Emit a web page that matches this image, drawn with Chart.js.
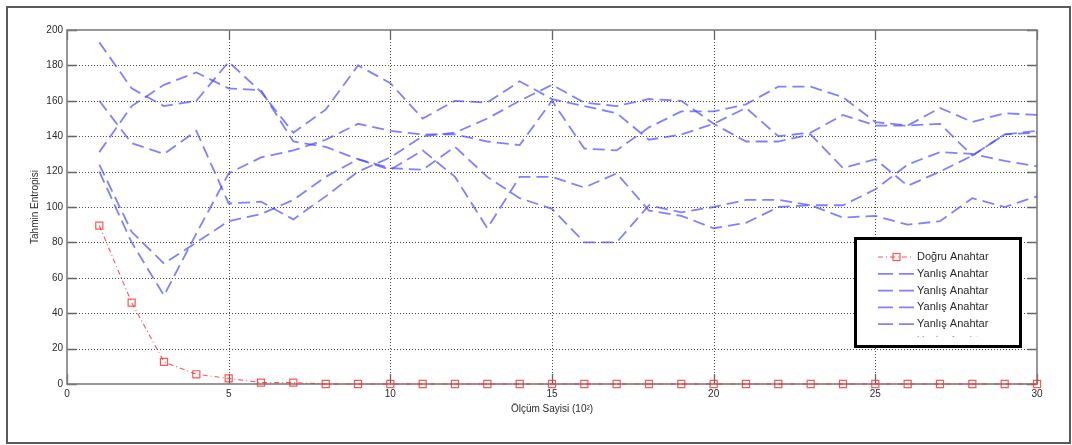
<!DOCTYPE html>
<html>
<head>
<meta charset="utf-8">
<script src="https://cdn.jsdelivr.net/npm/chart.js@4.4.1/dist/chart.umd.min.js"></script>
<style>
  html, body { margin: 0; padding: 0; background: #fff; }
  canvas { display: block; }
</style>
</head>
<body>
<canvas id="chart" width="1072" height="445"></canvas>
<script>
// Measurement counts (x 10^2)
const olcumSayisi = [1,2,3,4,5,6,7,8,9,10,11,12,13,14,15,16,17,18,19,20,21,22,23,24,25,26,27,28,29,30];

// Estimated entropy for the correct key
const dogruAnahtar = [89.5,46,12.5,5.5,3.2,0.8,0.8,0,0,0,0,0,0,0,0,0,0,0,0,0,0,0,0,0,0,0,0,0,0,0];

// Estimated entropy for the wrong keys
const yanlisAnahtar1 = [193,167,157,160,182,165,142,155,180,170,150,160,159,171,161,157,153,138,141,147,156,140,142,152,146,146,147,129,141,142];
const yanlisAnahtar2 = [131,157,169,176,167,166,137,134,127,122,121,134,117,105,99,80,80,101,97,100,104,104,101,101,110,124,131,130,126,123];
const yanlisAnahtar3 = [160,136,130,143,102,103,93,106,120,128,140,142,150,160,169,159,157,161,160,147,137,137,141,122,127,112,120,129,141,143];
const yanlisAnahtar4 = [124,86,68,80,92,96,104,117,127,121,132,117,88,117,117,111,119,98,95,88,91,100,101,94,95,90,92,105,100,106];
const yanlisAnahtar5 = [120,80,50,85,119,128,132,138,147,143,141,141,137,135,160,133,132,145,154,154,158,168,168,162,148,146,156,148,153,152];

// Axis ticks
const xTicks = [0,5,10,15,20,25,30];
const yTicks = [0,20,40,60,80,100,120,140,160,180,200];

const FONT = "'Liberation Sans', Arial, Helvetica, sans-serif";
const BLUE = 'rgba(70,70,255,0.68)';
const RED = 'rgba(255,40,40,0.78)';

const toPoints = arr => arr.map((v, i) => ({ x: olcumSayisi[i], y: v }));

const wrongSets = [yanlisAnahtar1, yanlisAnahtar2, yanlisAnahtar3, yanlisAnahtar4, yanlisAnahtar5];

const datasets = [
  {
    label: 'Doğru Anahtar',
    data: toPoints(dogruAnahtar),
    borderColor: RED,
    borderWidth: 1.1,
    borderDash: [5, 3, 1, 3],
    pointStyle: 'rect',
    pointRadius: 5,
    pointBorderWidth: 1.2,
    pointBorderColor: RED,
    pointBackgroundColor: 'rgba(255,255,255,0)',
    clip: false,
    order: 0
  },
  ...wrongSets.map(arr => ({
    label: 'Yanlış Anahtar',
    data: toPoints(arr),
    borderColor: BLUE,
    borderWidth: 1.8,
    borderDash: [12, 6],
    pointRadius: 0,
    clip: false,
    order: 1
  }))
];

// White page with a thin outer frame
const framePlugin = {
  id: 'frame',
  beforeDraw(chart) {
    const { ctx } = chart;
    ctx.save();
    ctx.fillStyle = '#fff';
    ctx.fillRect(0, 0, chart.width, chart.height);
    ctx.strokeStyle = '#5a5a5a';
    ctx.lineWidth = 2;
    ctx.strokeRect(7, 7, 1063, 436);
    ctx.restore();
  }
};

// Dotted grid, axes box and inward tick marks
const gridPlugin = {
  id: 'boxGrid',
  beforeDatasetsDraw(chart) {
    const { ctx, chartArea: { left, right, top, bottom }, scales: { x, y } } = chart;
    ctx.save();
    ctx.strokeStyle = '#4a4a4a';
    ctx.lineWidth = 1;
    ctx.setLineDash([1, 2]);
    xTicks.forEach(v => {
      if (v <= x.min || v >= x.max) return;
      const px = Math.round(x.getPixelForValue(v)) + 0.5;
      ctx.beginPath(); ctx.moveTo(px, top); ctx.lineTo(px, bottom); ctx.stroke();
    });
    yTicks.forEach(v => {
      if (v <= y.min || v >= y.max) return;
      const py = Math.round(y.getPixelForValue(v)) + 0.5;
      ctx.beginPath(); ctx.moveTo(left, py); ctx.lineTo(right, py); ctx.stroke();
    });
    ctx.setLineDash([]);
    // tick marks pointing into the plot
    ctx.strokeStyle = '#666';
    ctx.lineWidth = 1.3;
    const tl = 10;
    xTicks.forEach(v => {
      const px = Math.round(x.getPixelForValue(v)) + 0.5;
      ctx.beginPath();
      ctx.moveTo(px, bottom); ctx.lineTo(px, bottom - tl);
      ctx.moveTo(px, top); ctx.lineTo(px, top + tl);
      ctx.stroke();
    });
    yTicks.forEach(v => {
      const py = Math.round(y.getPixelForValue(v)) + 0.5;
      ctx.beginPath();
      ctx.moveTo(left, py); ctx.lineTo(left + tl, py);
      ctx.moveTo(right, py); ctx.lineTo(right - tl, py);
      ctx.stroke();
    });
    // axes box
    ctx.strokeStyle = '#7d7d7d';
    ctx.lineWidth = 1.6;
    ctx.strokeRect(left, top, right - left, bottom - top);
    ctx.restore();
  }
};

// Boxed legend in the lower right of the plot; entries past its bottom are cut off
const legendPlugin = {
  id: 'boxLegend',
  afterDraw(chart) {
    const { ctx } = chart;
    const bx = 855.5, by = 238.5, bw = 165, bh = 108;
    ctx.save();
    ctx.fillStyle = '#fff';
    ctx.fillRect(bx, by, bw, bh);
    ctx.save();
    ctx.beginPath();
    ctx.rect(bx, by, bw, 98);
    ctx.clip();
    ctx.font = '11px ' + FONT;
    ctx.textBaseline = 'middle';
    ctx.textAlign = 'left';
    chart.data.datasets.forEach((ds, i) => {
      const cy = 257 + i * 16.8;
      ctx.strokeStyle = ds.borderColor;
      if (ds.pointStyle === 'rect') {
        ctx.lineWidth = ds.borderWidth;
        ctx.setLineDash(ds.borderDash);
        ctx.beginPath(); ctx.moveTo(878, cy); ctx.lineTo(913, cy); ctx.stroke();
        ctx.setLineDash([]);
        ctx.lineWidth = 1.2;
        ctx.strokeRect(893, cy - 3.5, 7, 7);
      } else {
        ctx.lineWidth = ds.borderWidth;
        ctx.setLineDash([15, 6]);
        ctx.beginPath(); ctx.moveTo(878, cy); ctx.lineTo(914, cy); ctx.stroke();
        ctx.setLineDash([]);
      }
      ctx.fillStyle = '#2a2a2a';
      ctx.fillText(ds.label, 917, cy);
    });
    ctx.restore();
    ctx.lineWidth = 3;
    ctx.strokeStyle = '#000';
    ctx.strokeRect(bx, by, bw, bh);
    ctx.restore();
  }
};

new Chart(document.getElementById('chart'), {
  type: 'line',
  data: { datasets },
  options: {
    responsive: false,
    animation: false,
    events: [],
    layout: { padding: { left: 0, top: 30, right: 35, bottom: 0 } },
    plugins: { legend: { display: false }, tooltip: { enabled: false } },
    elements: { line: { tension: 0 } },
    scales: {
      x: {
        type: 'linear',
        min: 0,
        max: 30,
        afterBuildTicks: s => { s.ticks = xTicks.map(v => ({ value: v })); },
        afterFit: s => { s.height = 61; },
        grid: { display: false, drawTicks: false, tickLength: 0 },
        border: { display: false },
        ticks: { padding: 4, maxRotation: 0, autoSkip: false, color: '#2a2a2a', font: { family: FONT, size: 10 } },
        title: { display: true, text: 'Ölçüm Sayisi (10²)', color: '#2a2a2a', font: { family: FONT, size: 10 }, padding: { top: 0, bottom: 30 } }
      },
      y: {
        type: 'linear',
        min: 0,
        max: 200,
        afterBuildTicks: s => { s.ticks = yTicks.map(v => ({ value: v })); },
        afterFit: s => { s.width = 67; },
        grid: { display: false, drawTicks: false, tickLength: 0 },
        border: { display: false },
        ticks: { padding: 4, autoSkip: false, color: '#2a2a2a', font: { family: FONT, size: 10 } },
        title: { display: true, text: 'Tahmin Entropisi', color: '#2a2a2a', font: { family: FONT, size: 10 }, padding: { top: 29, bottom: 0 } }
      }
    }
  },
  plugins: [framePlugin, gridPlugin, legendPlugin]
});
</script>
</body>
</html>
